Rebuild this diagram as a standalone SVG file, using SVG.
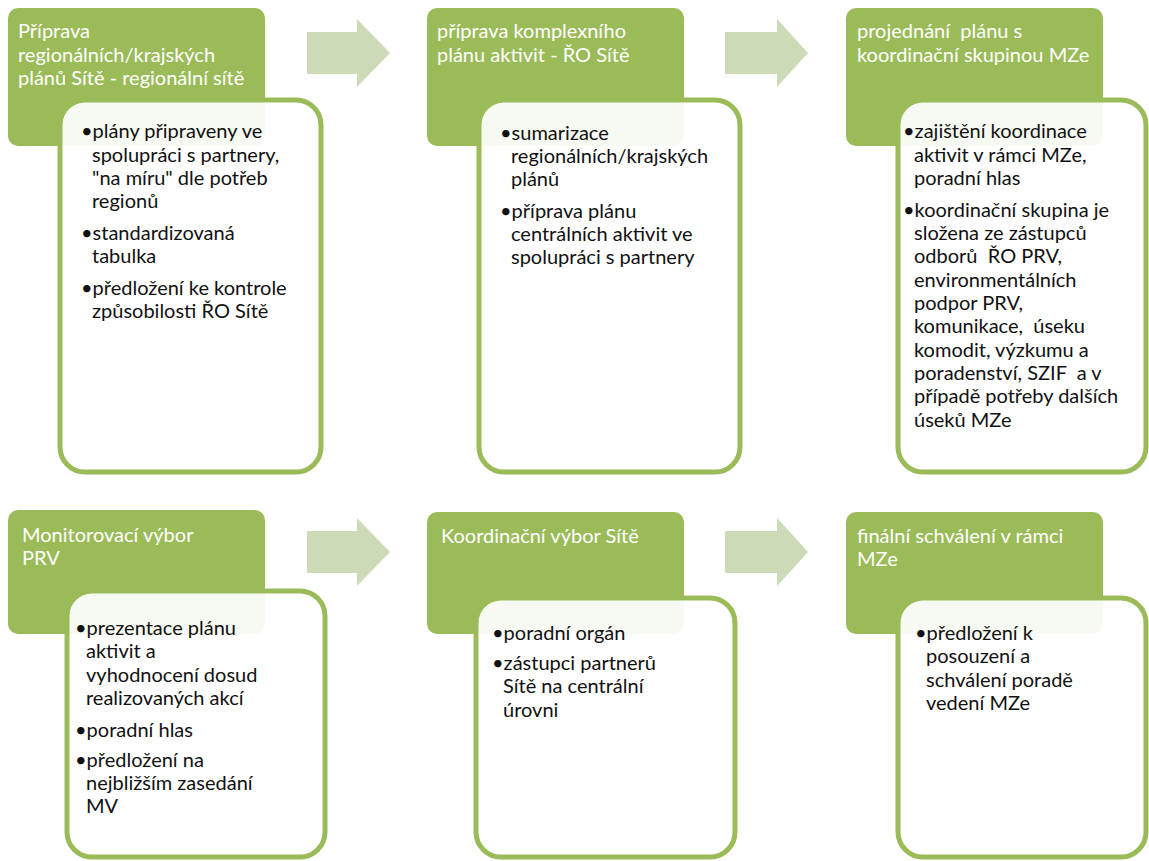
<svg xmlns="http://www.w3.org/2000/svg" width="1149" height="861" viewBox="0 0 1149 861">
<style>
.hdr{fill:#9BBB59}
.arrow{fill:#CDDAB8}
.inner{fill:#FFFFFF;fill-opacity:0.92;stroke:#9BBB59;stroke-width:5}
.ht{font-family:Lato,"Open Sans","DejaVu Sans",sans-serif;font-size:20px;fill:#FFFFFF;white-space:pre}
.bt{font-family:Lato,"Open Sans","DejaVu Sans",sans-serif;font-size:20px;fill:#111111;white-space:pre}
</style>
<rect width="1149" height="861" fill="#FFFFFF"/>
<g id="connectors">
<polygon class="arrow" points="307,32 357,32 357,19 390,53 357,87 357,74 307,74"/>
<polygon class="arrow" points="725,32 777,32 777,19 808,53 777,87 777,74 725,74"/>
<polygon class="arrow" points="307,531 357,531 357,518 390,552 357,586 357,573 307,573"/>
<polygon class="arrow" points="725,531 777,531 777,518 808,552 777,586 777,573 725,573"/>
</g>
<g id="node1">
<rect class="hdr" x="8" y="8" width="257" height="138" rx="10"/>
<text class="ht"><tspan x="18" y="38">Příprava</tspan><tspan x="18" y="62">regionálních/krajských</tspan><tspan x="18" y="85">plánů Sítě - regionální sítě</tspan></text>
<rect class="inner" x="60" y="100" width="261" height="372" rx="25"/>
<text class="bt"><tspan x="81" y="138">•plány připraveny ve</tspan><tspan x="92" y="162">spolupráci s partnery,</tspan><tspan x="92" y="185">"na míru" dle potřeb</tspan><tspan x="92" y="208">regionů</tspan><tspan x="81" y="240">•standardizovaná</tspan><tspan x="92" y="263">tabulka</tspan><tspan x="81" y="295">•předložení ke kontrole</tspan><tspan x="92" y="318">způsobilosti ŘO Sítě</tspan></text>
</g>
<g id="node2">
<rect class="hdr" x="427" y="8" width="257" height="138" rx="10"/>
<text class="ht"><tspan x="437" y="38">příprava komplexního</tspan><tspan x="437" y="62">plánu aktivit - ŘO Sítě</tspan></text>
<rect class="inner" x="479" y="100" width="261" height="372" rx="25"/>
<text class="bt"><tspan x="500" y="140">•sumarizace</tspan><tspan x="511" y="163">regionálních/krajských</tspan><tspan x="511" y="186">plánů</tspan><tspan x="500" y="218">•příprava plánu</tspan><tspan x="511" y="241">centrálních aktivit ve</tspan><tspan x="511" y="264">spolupráci s partnery</tspan></text>
</g>
<g id="node3">
<rect class="hdr" x="846" y="8" width="257" height="138" rx="10"/>
<text class="ht"><tspan x="857" y="38">projednání  plánu s</tspan><tspan x="857" y="62">koordinační skupinou MZe</tspan></text>
<rect class="inner" x="898" y="100" width="248" height="372" rx="25"/>
<text class="bt"><tspan x="903" y="138">•zajištění koordinace</tspan><tspan x="914" y="162">aktivit v rámci MZe,</tspan><tspan x="914" y="185">poradní hlas</tspan><tspan x="903" y="217">•koordinační skupina je</tspan><tspan x="914" y="240">složena ze zástupců</tspan><tspan x="914" y="263">odborů  ŘO PRV,</tspan><tspan x="914" y="287">environmentálních</tspan><tspan x="914" y="310">podpor PRV,</tspan><tspan x="914" y="333">komunikace,  úseku</tspan><tspan x="914" y="357">komodit, výzkumu a</tspan><tspan x="914" y="380">poradenství, SZIF  a v</tspan><tspan x="914" y="403">případě potřeby dalších</tspan><tspan x="914" y="427">úseků MZe</tspan></text>
</g>
<g id="node4">
<rect class="hdr" x="8" y="510" width="257" height="124" rx="10"/>
<text class="ht"><tspan x="22" y="542">Monitorovací výbor</tspan><tspan x="22" y="565">PRV</tspan></text>
<rect class="inner" x="67" y="591" width="258" height="266" rx="25"/>
<text class="bt"><tspan x="75" y="635">•prezentace plánu</tspan><tspan x="86" y="658">aktivit a</tspan><tspan x="86" y="682">vyhodnocení dosud</tspan><tspan x="86" y="705">realizovaných akcí</tspan><tspan x="75" y="737">•poradní hlas</tspan><tspan x="75" y="767">•předložení na</tspan><tspan x="86" y="790">nejbližším zasedání</tspan><tspan x="86" y="813">MV</tspan></text>
</g>
<g id="node5">
<rect class="hdr" x="427" y="512" width="257" height="122" rx="10"/>
<text class="ht"><tspan x="441" y="543">Koordinační výbor Sítě</tspan></text>
<rect class="inner" x="476" y="598" width="259" height="259" rx="25"/>
<text class="bt"><tspan x="492" y="640">•poradní orgán</tspan><tspan x="492" y="670">•zástupci partnerů</tspan><tspan x="503" y="693">Sítě na centrální</tspan><tspan x="503" y="717">úrovni</tspan></text>
</g>
<g id="node6">
<rect class="hdr" x="846" y="512" width="257" height="122" rx="10"/>
<text class="ht"><tspan x="857" y="543">finální schválení v rámci</tspan><tspan x="857" y="566">MZe</tspan></text>
<rect class="inner" x="898" y="598" width="248" height="259" rx="25"/>
<text class="bt"><tspan x="915" y="640">•předložení k</tspan><tspan x="926" y="663">posouzení a</tspan><tspan x="926" y="687">schválení poradě</tspan><tspan x="926" y="710">vedení MZe</tspan></text>
</g>
</svg>
